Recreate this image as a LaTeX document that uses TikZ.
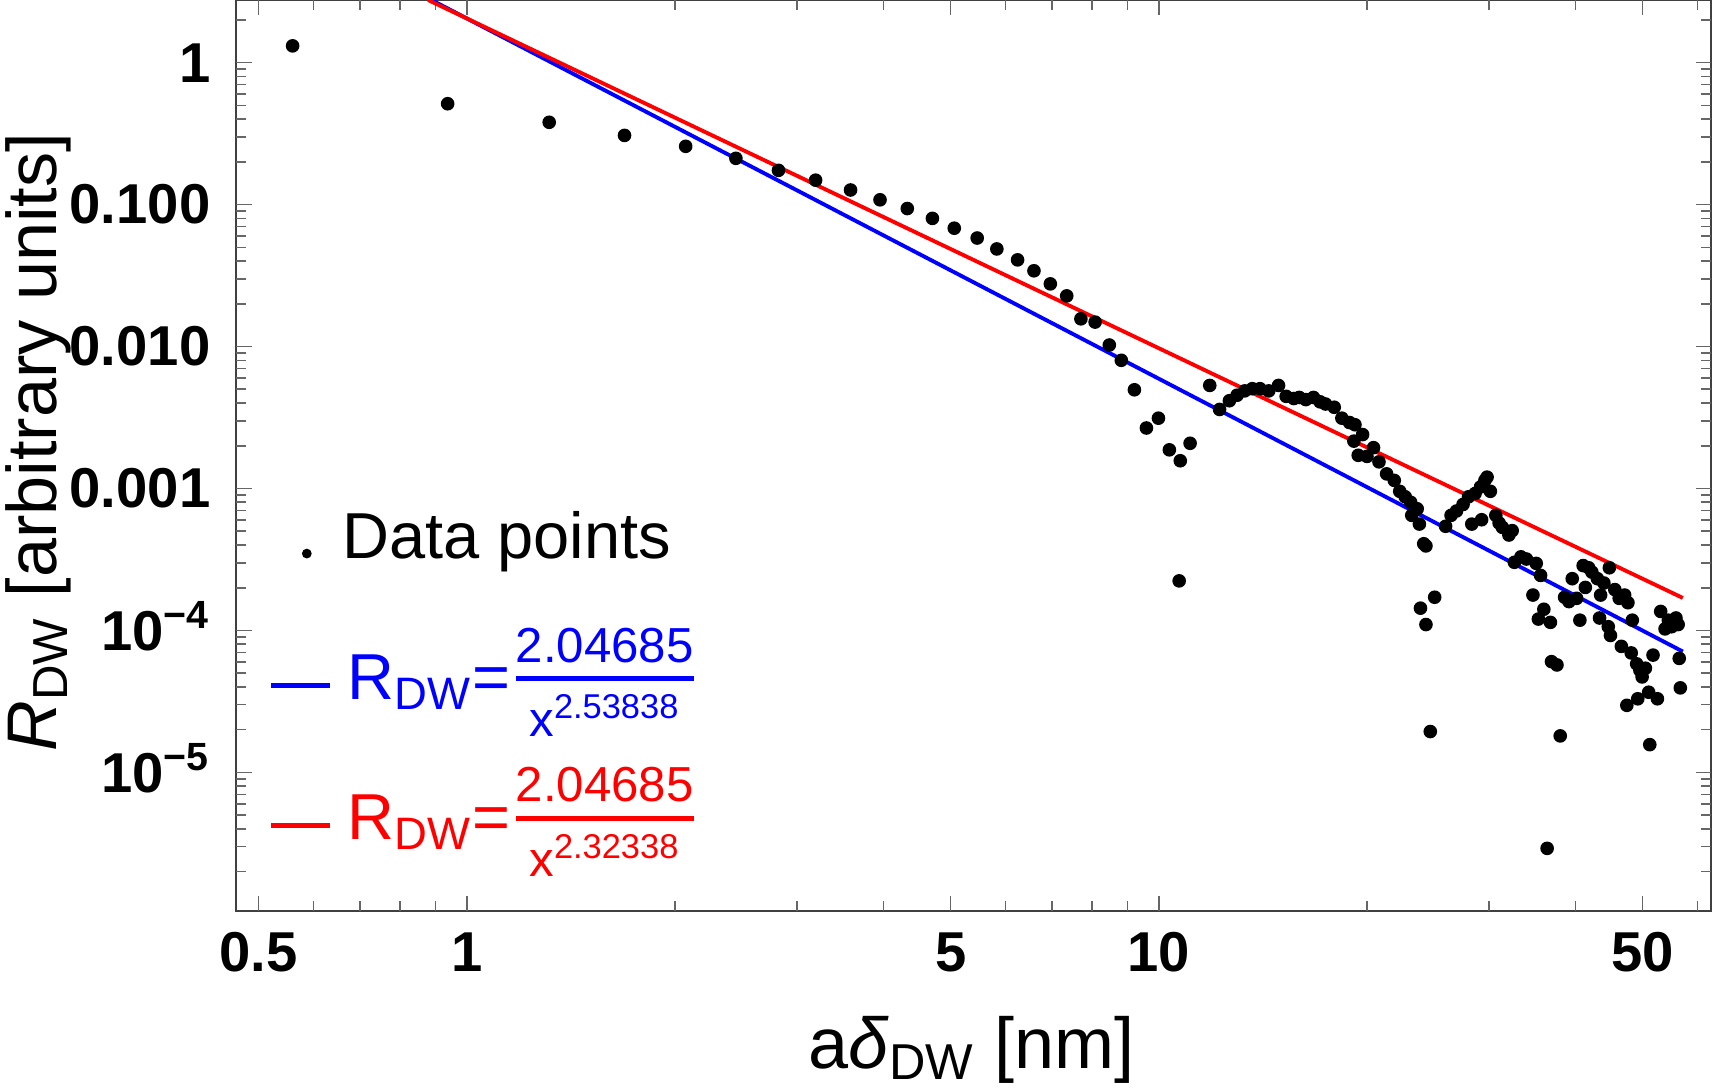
\documentclass[tikz,border=0pt]{standalone}
\usepackage{amsmath}
\usepackage{fontspec}
\setmainfont{Liberation Sans}
\begin{document}
\begin{tikzpicture}[x=0.010918cm,y=-0.010918cm,
  dot/.style={fill=black,circle,inner sep=0pt,minimum size=12.5*0.010918cm},
  tickl/.style={font=\fontsize{16}{18}\selectfont\bfseries},
  axln/.style={draw=black!75,line width=0.6pt},
  tk/.style={draw=black!60,line width=0.45pt},
  fr/.style={font=\fontsize{13.5}{15}\selectfont}]
\useasboundingbox (0,0) rectangle (1568,995.6);
\def\LX#1{(427.7+633.8*log10(#1))}
% frame
\draw[axln] (216.5,0) rectangle (1567,834.4);
% x ticks
\foreach \v in {0.5,1,5,10,50}{
  \draw[tk] ({\LX{\v}},834.4) -- ++(0,-14);
  \draw[tk] ({\LX{\v}},0) -- ++(0,14);}
\foreach \v in {0.6,0.7,0.8,0.9,2,3,4,6,7,8,9,20,30,40,60}{
  \draw[tk] ({\LX{\v}},834.4) -- ++(0,-9);
  \draw[tk] ({\LX{\v}},0) -- ++(0,9);}
% y ticks
\foreach \e in {0,-1,-2,-3,-4,-5}{
  \draw[tk] (216.5,{57.4-130*\e}) -- ++(14,0);
  \draw[tk] (1567,{57.4-130*\e}) -- ++(-14,0);}
\foreach \e in {1,0,-1,-2,-3,-4,-5,-6}{
  \foreach \m in {2,...,9}{
    \pgfmathsetmacro\yy{57.4-130*(\e+log10(\m))}
    \ifdim\yy pt>0pt \ifdim\yy pt<834pt
    \draw[tk] (216.5,\yy) -- ++(9,0);
    \draw[tk] (1567,\yy) -- ++(-9,0);
    \fi\fi}}
% tick labels
\node[tickl] (x05) at ({\LX{0.5}},872) {0.5};
\node[tickl] (x1) at ({\LX{1}},872) {1};
\node[tickl] (x5) at ({\LX{5}},872) {5};
\node[tickl] (x10) at ({\LX{10}},872) {10};
\node[tickl] (x50) at ({\LX{50}},872) {50};
\node[tickl,anchor=east] (y0) at (204,57.4) {1};
\node[tickl,anchor=east] (y1) at (204,187.4) {0.100};
\node[tickl,anchor=east] (y2) at (204,317.4) {0.010};
\node[tickl,anchor=east] (y3) at (204,447.4) {0.001};
\node[tickl,anchor=east] (y4) at (204,574) {10\textsuperscript{−4}};
\node[tickl,anchor=east] (y5) at (204,704) {10\textsuperscript{−5}};
% axis labels
\node[font=\fontsize{20.5}{23}\selectfont] (xl) at (890,962) {a\textit{δ}\textsubscript{DW} [nm]};
\node[font=\fontsize{20}{23}\selectfont,rotate=90] (yl) at (35,405) {\textit{R}\textsubscript{DW} [arbitrary units]};
% fits
\draw[blue,line width=1.1pt] plot[domain=-0.0514:1.757,samples=2] ({427.7+633.8*\x},{57.4-130*(0.3111-2.53838*\x)});
\draw[red,line width=1.1pt] plot[domain=-0.0561:1.757,samples=2] ({427.7+633.8*\x},{57.4-130*(0.3111-2.32338*\x)});
% data
\foreach \a/\b in {268/42,410/95,503/112,572/124,628/134,674/145,713/156,747/165,779/174,806/183,831/191,854/200,874/209,895/218,913/228,932/238,947/248,962/260,977/271,990/292,1003/295,1016/316,1027/330,1039/357,1050/392,1061/383,1071/412,1081/422,1090/406,1080/532,1108/353,1117/375,1126/367,1133/362,1140/358,1147/356,1154/356,1162/358,1171/353,1178/363,1185/365,1190/364,1196/366,1203/364,1209/368,1214/370,1222/373,1229/383,1236/387,1241/389,1240/404,1248/398,1244/417,1252/418,1258/410,1263/423,1270/434,1277/440,1282/450,1287/455,1292/460,1293/472,1298/466,1300/480,1304/498,1306/500,1301/557,1306/572,1310/670,1314/547,1324/482,1329/472,1334/468,1340/462,1345/455,1348/480,1351/452,1356/446,1360/440,1362/437,1365/450,1357/476,1370/472,1373/479,1376/483,1382/490,1385/486,1387/515,1393/510,1398/512,1404/545,1407/516,1411/527,1414/558,1420/570,1409/567,1417/777,1421/606,1426/609,1429/674,1433/547,1437/551,1440/530,1444/548,1447/568,1450/518,1455/520,1458/524,1463/530,1466/545,1469/534,1473/574,1474/520,1479/540,1483/548,1488/545,1491/552,1495/568,1490/646,1494/598,1499/608,1500/640,1502/614,1504/620,1507/612,1510/634,1511/682,1514/600,1518/640,1521/560,1525/576,1528/568,1531/574,1535/566,1537/572,1538/603,1539/630,1485/592,1475/582,1465/566,1452/538}
  \node[dot] at (\a,\b) {};
% legend
\node[dot,minimum size=9*0.010918cm] (ld) at (281,507) {};
\node[anchor=west,font=\fontsize{18.5}{20}\selectfont] (lt) at (302,496) {Data points};
\coordinate (b1) at (248,628); \coordinate (b2) at (302,628);
\draw[blue,line width=1.3pt] (b1) -- (b2);
\node[anchor=west,blue,font=\fontsize{18.5}{20}\selectfont,inner sep=0pt] (lb) at (318,625) {R\textsubscript{DW}=};
\node[anchor=west,blue,inner sep=0pt] (lbf) at (lb.east) {$\genfrac{}{}{1.3pt}{0}{\text{\fontsize{14}{15}\selectfont 2.04685}}{\text{\fontsize{14}{15}\selectfont x\textsuperscript{2.53838}}}$};
\coordinate (r1) at (248,756); \coordinate (r2) at (302,756);
\draw[red,line width=1.3pt] (r1) -- (r2);
\node[anchor=west,red,font=\fontsize{18.5}{20}\selectfont,inner sep=0pt] (lr) at (318,753) {R\textsubscript{DW}=};
\node[anchor=west,red,inner sep=0pt] (lrf) at (lr.east) {$\genfrac{}{}{1.3pt}{0}{\text{\fontsize{14}{15}\selectfont 2.04685}}{\text{\fontsize{14}{15}\selectfont x\textsuperscript{2.32338}}}$};
\end{tikzpicture}
\end{document}
